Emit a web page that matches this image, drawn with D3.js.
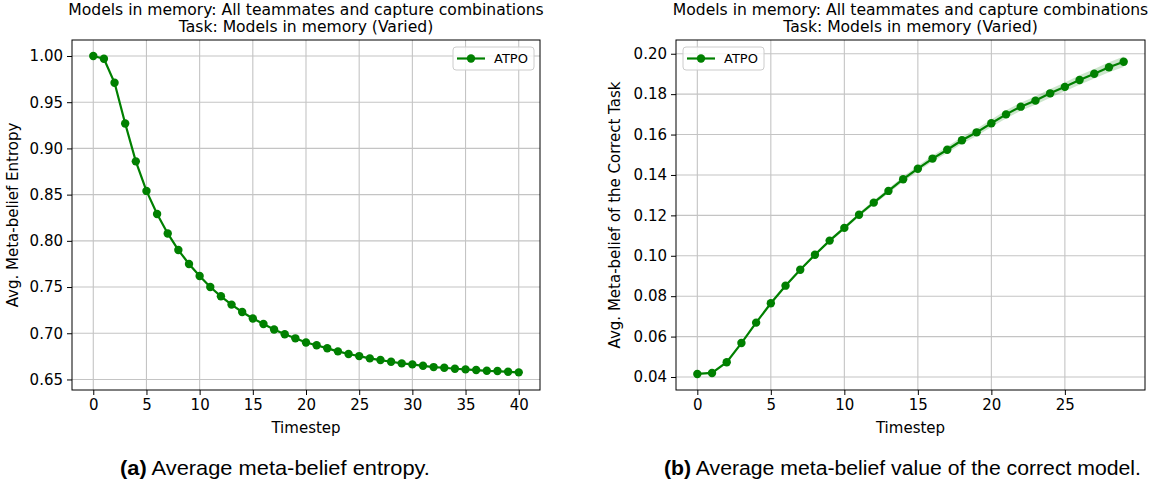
<!DOCTYPE html>
<html>
<head>
<meta charset="utf-8">
<script src="https://cdn.jsdelivr.net/npm/d3@7"></script>
<style>
  html, body { margin: 0; padding: 0; background: #fff; }
  svg { display: block; }
  text { font-family: "DejaVu Sans", sans-serif; fill: #000; }
  text.caption { font-family: "Liberation Sans", Arial, sans-serif; }
</style>
</head>
<body>
<svg id="chart" width="1159" height="485"></svg>
<script>
// ---------------- DATA ----------------
const titleLine1 = "Models in memory: All teammates and capture combinations";
const titleLine2 = "Task: Models in memory (Varied)";
const seriesName = "ATPO";

// (a) entropy
const entropySteps = d3.range(0, 41);
const entropyValues = [
  1.000, 0.997, 0.971, 0.927, 0.886, 0.854, 0.829, 0.808, 0.790, 0.775,
  0.762, 0.750, 0.740, 0.731, 0.723, 0.716, 0.710, 0.704, 0.699, 0.6945,
  0.690, 0.687, 0.6837, 0.6804, 0.6775, 0.6753, 0.6728, 0.671, 0.6692, 0.6674,
  0.6663, 0.6648, 0.6634, 0.6627, 0.6616, 0.6609, 0.6602, 0.6594, 0.6591, 0.6583,
  0.6577
];
const entropyXTicks = [0, 5, 10, 15, 20, 25, 30, 35, 40];
const entropyYTicks = [0.65, 0.70, 0.75, 0.80, 0.85, 0.90, 0.95, 1.00];

// (b) correct-model belief
const beliefSteps = d3.range(0, 30);
const beliefValues = [
  0.0415, 0.0420, 0.0473, 0.0568, 0.0669, 0.0765, 0.0852, 0.0931, 0.1005, 0.1075,
  0.1138, 0.1203, 0.1263, 0.1321, 0.1379, 0.1431, 0.1481, 0.1525, 0.1572, 0.1611,
  0.1656, 0.1700, 0.1738, 0.1768, 0.1804, 0.1836, 0.1870, 0.1901, 0.1933, 0.1960
];
const beliefSpread = [
  0.0000, 0.0001, 0.0002, 0.0003, 0.0004, 0.0005, 0.0006, 0.0006, 0.0007, 0.0008,
  0.0009, 0.0010, 0.0011, 0.0012, 0.0013, 0.0014, 0.0015, 0.0016, 0.0017, 0.0018,
  0.0019, 0.0020, 0.0020, 0.0021, 0.0022, 0.0022, 0.0023, 0.0024, 0.0025, 0.0026
];
const beliefXTicks = [0, 5, 10, 15, 20, 25];
const beliefYTicks = [0.04, 0.06, 0.08, 0.10, 0.12, 0.14, 0.16, 0.18, 0.20];

const captionA = ["(a)", " Average meta-belief entropy."];
const captionB = ["(b)", " Average meta-belief value of the correct model."];

// ---------------- DRAW ----------------
const svg = d3.select("#chart");
const GREEN = "#008000";
const GRID = "#c4c4c4";

function panel(cfg) {
  const x = d3.scaleLinear().domain(cfg.xDomain).range([cfg.left, cfg.right]);
  const y = d3.scaleLinear().domain(cfg.yDomain).range([cfg.bottom, cfg.top]);
  const g = svg.append("g");

  // grid
  g.append("g").selectAll("line").data(cfg.xTicks).join("line")
    .attr("x1", d => x(d)).attr("x2", d => x(d))
    .attr("y1", cfg.top).attr("y2", cfg.bottom)
    .attr("stroke", GRID).attr("stroke-width", 1.1);
  g.append("g").selectAll("line").data(cfg.yTicks).join("line")
    .attr("y1", d => y(d)).attr("y2", d => y(d))
    .attr("x1", cfg.left).attr("x2", cfg.right)
    .attr("stroke", GRID).attr("stroke-width", 1.1);

  // band
  if (cfg.spread) {
    const area = d3.area()
      .x((d, i) => x(cfg.xs[i]))
      .y0((d, i) => y(cfg.ys[i] - cfg.spread[i]))
      .y1((d, i) => y(cfg.ys[i] + cfg.spread[i]));
    g.append("path").datum(cfg.ys).attr("d", area)
      .attr("fill", GREEN).attr("fill-opacity", 0.2).attr("stroke", "none");
  }

  // line
  const line = d3.line().x((d, i) => x(cfg.xs[i])).y(d => y(d));
  g.append("path").datum(cfg.ys).attr("d", line)
    .attr("fill", "none").attr("stroke", GREEN).attr("stroke-width", 2.2);
  g.append("g").selectAll("circle").data(cfg.ys).join("circle")
    .attr("cx", (d, i) => x(cfg.xs[i])).attr("cy", d => y(d))
    .attr("r", 4.2).attr("fill", GREEN);

  // frame
  g.append("rect").attr("x", cfg.left).attr("y", cfg.top)
    .attr("width", cfg.right - cfg.left).attr("height", cfg.bottom - cfg.top)
    .attr("fill", "none").attr("stroke", "#000").attr("stroke-width", 1);

  // axes
  const xa = g.append("g").attr("transform", `translate(0,${cfg.bottom})`)
    .call(d3.axisBottom(x).tickValues(cfg.xTicks).tickSize(5).tickPadding(4).tickFormat(d3.format("d")));
  const ya = g.append("g").attr("transform", `translate(${cfg.left},0)`)
    .call(d3.axisLeft(y).tickValues(cfg.yTicks).tickSize(5).tickPadding(4).tickFormat(d3.format(".2f")));
  [xa, ya].forEach(a => {
    a.select(".domain").remove();
    a.selectAll("text").attr("font-size", 15).attr("font-family", "DejaVu Sans").attr("fill", "#000");
    a.selectAll("line").attr("stroke", "#000");
  });

  const cx = (cfg.left + cfg.right) / 2;
  // titles
  g.append("text").attr("x", cx).attr("y", 15).attr("text-anchor", "middle")
    .attr("font-size", 15.6).text(titleLine1);
  g.append("text").attr("x", cx).attr("y", 32).attr("text-anchor", "middle")
    .attr("font-size", 15.6).text(titleLine2);
  // x label
  g.append("text").attr("x", cx).attr("y", 433).attr("text-anchor", "middle")
    .attr("font-size", 15).text("Timestep");
  // y label
  g.append("text").attr("transform", `translate(${cfg.ylabelX},${(cfg.top + cfg.bottom) / 2}) rotate(-90)`)
    .attr("text-anchor", "middle").attr("font-size", 15).text(cfg.ylabel);

  // legend
  const L = cfg.legend;
  const lg = g.append("g");
  lg.append("rect").attr("x", L.x).attr("y", L.y).attr("width", L.w).attr("height", L.h)
    .attr("rx", 3).attr("fill", "#fff").attr("fill-opacity", 0.8)
    .attr("stroke", "#cccccc").attr("stroke-width", 1);
  lg.append("line").attr("x1", L.x + 4).attr("x2", L.x + 32)
    .attr("y1", L.y + L.h / 2).attr("y2", L.y + L.h / 2)
    .attr("stroke", GREEN).attr("stroke-width", 2.2);
  lg.append("circle").attr("cx", L.x + 18).attr("cy", L.y + L.h / 2).attr("r", 4.2).attr("fill", GREEN);
  lg.append("text").attr("x", L.x + 41).attr("y", L.y + L.h / 2).attr("dy", "0.36em")
    .attr("font-size", 13).text(seriesName);

  // caption
  const cap = svg.append("text").attr("class", "caption").attr("x", cfg.capX).attr("y", 475)
    .attr("font-size", 20);
  cap.append("tspan").attr("font-weight", "bold").text(cfg.caption[0]);
  cap.append("tspan").text(cfg.caption[1]);
  const w = cap.node().getComputedTextLength();
  const sx = cfg.capW / w;
  cap.attr("transform", `translate(${cfg.capX},0) scale(${sx},1) translate(${-cfg.capX},0)`);
}

panel({
  left: 72, right: 540, top: 40, bottom: 390,
  xDomain: [-2, 42], yDomain: [0.6386, 1.0173],
  xs: entropySteps, ys: entropyValues,
  xTicks: entropyXTicks, yTicks: entropyYTicks,
  ylabel: "Avg. Meta-belief Entropy", ylabelX: 18,
  legend: { x: 453, y: 47, w: 81, h: 23 },
  caption: captionA, capX: 120, capW: 310
});

panel({
  left: 676, right: 1145, top: 40, bottom: 390,
  xDomain: [-1.45, 30.45], yDomain: [0.03356, 0.2068],
  xs: beliefSteps, ys: beliefValues, spread: beliefSpread,
  xTicks: beliefXTicks, yTicks: beliefYTicks,
  ylabel: "Avg. Meta-belief of the Correct Task", ylabelX: 620,
  legend: { x: 683, y: 47, w: 81, h: 23 },
  caption: captionB, capX: 664, capW: 477
});
</script>
</body>
</html>
